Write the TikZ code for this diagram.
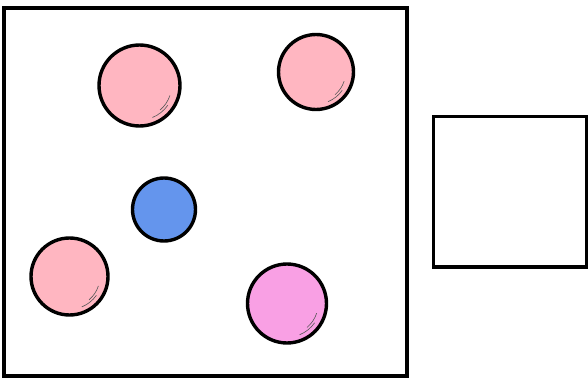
\documentclass[tikz,border=0pt]{standalone}
\usepackage{tikz}
\usetikzlibrary{positioning}
\definecolor{ballpink}{HTML}{FFB6C1}
\definecolor{ballmagenta}{HTML}{F9A0E4}
\definecolor{ballblue}{HTML}{6495ED}
\begin{document}
\begin{tikzpicture}[x=0.02cm,y=0.02cm,
  ball/.style={circle,draw,line width=0.068cm,inner sep=0pt},
  shine/.style={line width=0.35pt,black!65},
  frame/.style={draw,line width=0.068cm}]
\useasboundingbox (0,0) rectangle (588,379);
% boxes
\draw[frame] (4,371) rectangle (407,3);
\draw[frame] (433.5,262.5) rectangle (586.5,112);
% balls
\node[ball,fill=ballpink,minimum size=1.62cm] (b1) at (139.5,293.5) {};
\node[ball,fill=ballpink,minimum size=1.5cm] (b2) at (316,307) {};
\node[ball,fill=ballblue,minimum size=1.26cm] (b3) at (164,169.5) {};
\node[ball,fill=ballpink,minimum size=1.54cm] (b4) at (69.5,102.5) {};
\node[ball,fill=ballmagenta,minimum size=1.58cm] (b5) at (287,75.5) {};
% highlights
\draw[shine] ([shift={(-18:32)}]b1.center) arc[start angle=-18,end angle=-50,radius=32];
\draw[shine] ([shift={(-35:34.5)}]b1.center) arc[start angle=-35,end angle=-68,radius=34.5];
\draw[shine] ([shift={(-18:29.6)}]b2.center) arc[start angle=-18,end angle=-50,radius=29.6];
\draw[shine] ([shift={(-35:32)}]b2.center) arc[start angle=-35,end angle=-68,radius=32];
\draw[shine] ([shift={(-18:30.4)}]b4.center) arc[start angle=-18,end angle=-50,radius=30.4];
\draw[shine] ([shift={(-35:32.8)}]b4.center) arc[start angle=-35,end angle=-68,radius=32.8];
\draw[shine] ([shift={(-18:31.2)}]b5.center) arc[start angle=-18,end angle=-50,radius=31.2];
\draw[shine] ([shift={(-35:33.7)}]b5.center) arc[start angle=-35,end angle=-68,radius=33.7];
\end{tikzpicture}
\end{document}
